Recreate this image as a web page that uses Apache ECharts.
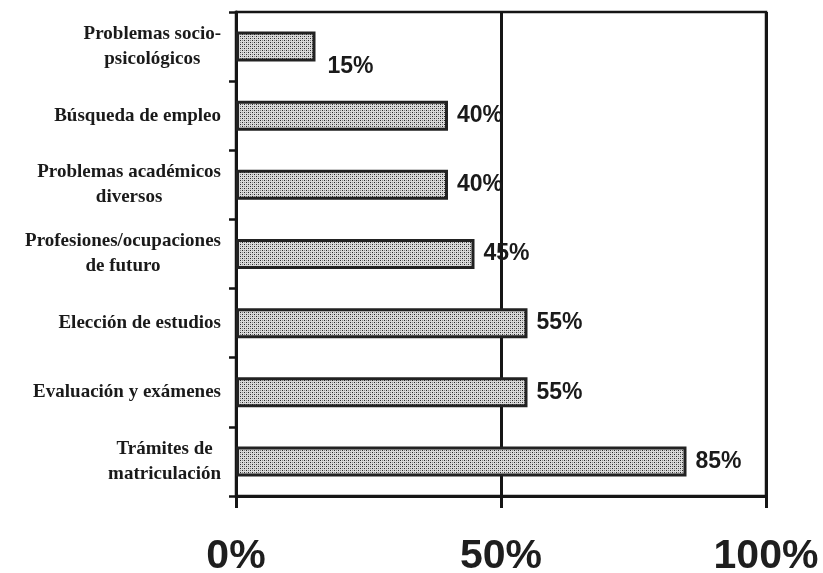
<!DOCTYPE html>
<html>
<head>
<meta charset="utf-8">
<script src="https://cdn.jsdelivr.net/npm/echarts@6/dist/echarts.min.js"></script>
<style>
  html, body { margin: 0; padding: 0; background: #fff; }
  #chart { width: 823px; height: 573px; }
</style>
</head>
<body>
<div id="chart"></div>
<script>
const categories = [
  'Problemas socio-\npsicológicos',
  'Búsqueda de empleo',
  'Problemas académicos\ndiversos',
  'Profesiones/ocupaciones\nde futuro',
  'Elección de estudios',
  'Evaluación y exámenes',
  'Trámites de\nmatriculación'
]
const percentages = [15, 40, 40, 45, 55, 55, 85]
const xTicks = [0, 50, 100]

// fine dotted fill like the printed bars
function stipple() {
  const c = document.createElement('canvas')
  c.width = 4
  c.height = 4
  const ctx = c.getContext('2d')
  ctx.fillStyle = '#dadada'
  ctx.fillRect(0, 0, 4, 4)
  ctx.fillStyle = '#2a2a2a'
  ctx.fillRect(0, 0, 1, 1)
  ctx.fillRect(2, 2, 1, 1)
  ctx.fillStyle = '#888'
  ctx.fillRect(2, 0, 1, 1)
  ctx.fillRect(0, 2, 1, 1)
  return c
}

const ink = '#151515'
const serif = '"Liberation Serif", "Times New Roman", serif'
const sans = '"Liberation Sans", Arial, sans-serif'

const chart = echarts.init(document.getElementById('chart'))

chart.setOption({
  animation: false,
  grid: {
    left: 236,
    right: 57,
    top: 12,
    bottom: 77,
    outerBoundsMode: 'none',
    show: true,
    borderColor: ink,
    borderWidth: 2.5
  },
  xAxis: {
    type: 'value',
    min: xTicks[0],
    max: xTicks[xTicks.length - 1],
    interval: xTicks[1] - xTicks[0],
    axisLine: { show: true, lineStyle: { color: ink, width: 3 } },
    axisTick: { show: true, length: 12, lineStyle: { color: ink, width: 3 } },
    splitLine: { show: true, lineStyle: { color: ink, width: 3 } },
    axisLabel: {
      formatter: '{value}%',
      color: '#1e1e1e',
      fontFamily: sans,
      fontWeight: 'bold',
      fontSize: 41,
      margin: 40
    }
  },
  yAxis: {
    type: 'category',
    inverse: true,
    data: categories,
    axisLine: { show: true, lineStyle: { color: ink, width: 3 } },
    axisTick: { show: true, length: 7, lineStyle: { color: ink, width: 2.5 } },
    axisLabel: {
      margin: 15,
      formatter: (v) => v.split('\n').map((s) => `{c|${s}}`).join('\n'),
      rich: {
        c: {
          align: 'center',
          color: '#1a1a1a',
          fontFamily: serif,
          fontWeight: 'bold',
          fontSize: 19,
          lineHeight: 25
        }
      }
    }
  },
  series: [
    {
      type: 'bar',
      barWidth: 30,
      data: percentages.map((v, i) =>
        i === 0 ? { value: v, label: { offset: [3, 20] } } : v
      ),
      itemStyle: {
        color: { image: stipple(), repeat: 'repeat' },
        borderColor: '#222',
        borderWidth: 3
      },
      label: {
        show: true,
        position: 'right',
        distance: 9,
        formatter: '{c}%',
        color: '#1a1a1a',
        fontFamily: sans,
        fontWeight: 'bold',
        fontSize: 23
      }
    }
  ]
})
</script>
</body>
</html>
